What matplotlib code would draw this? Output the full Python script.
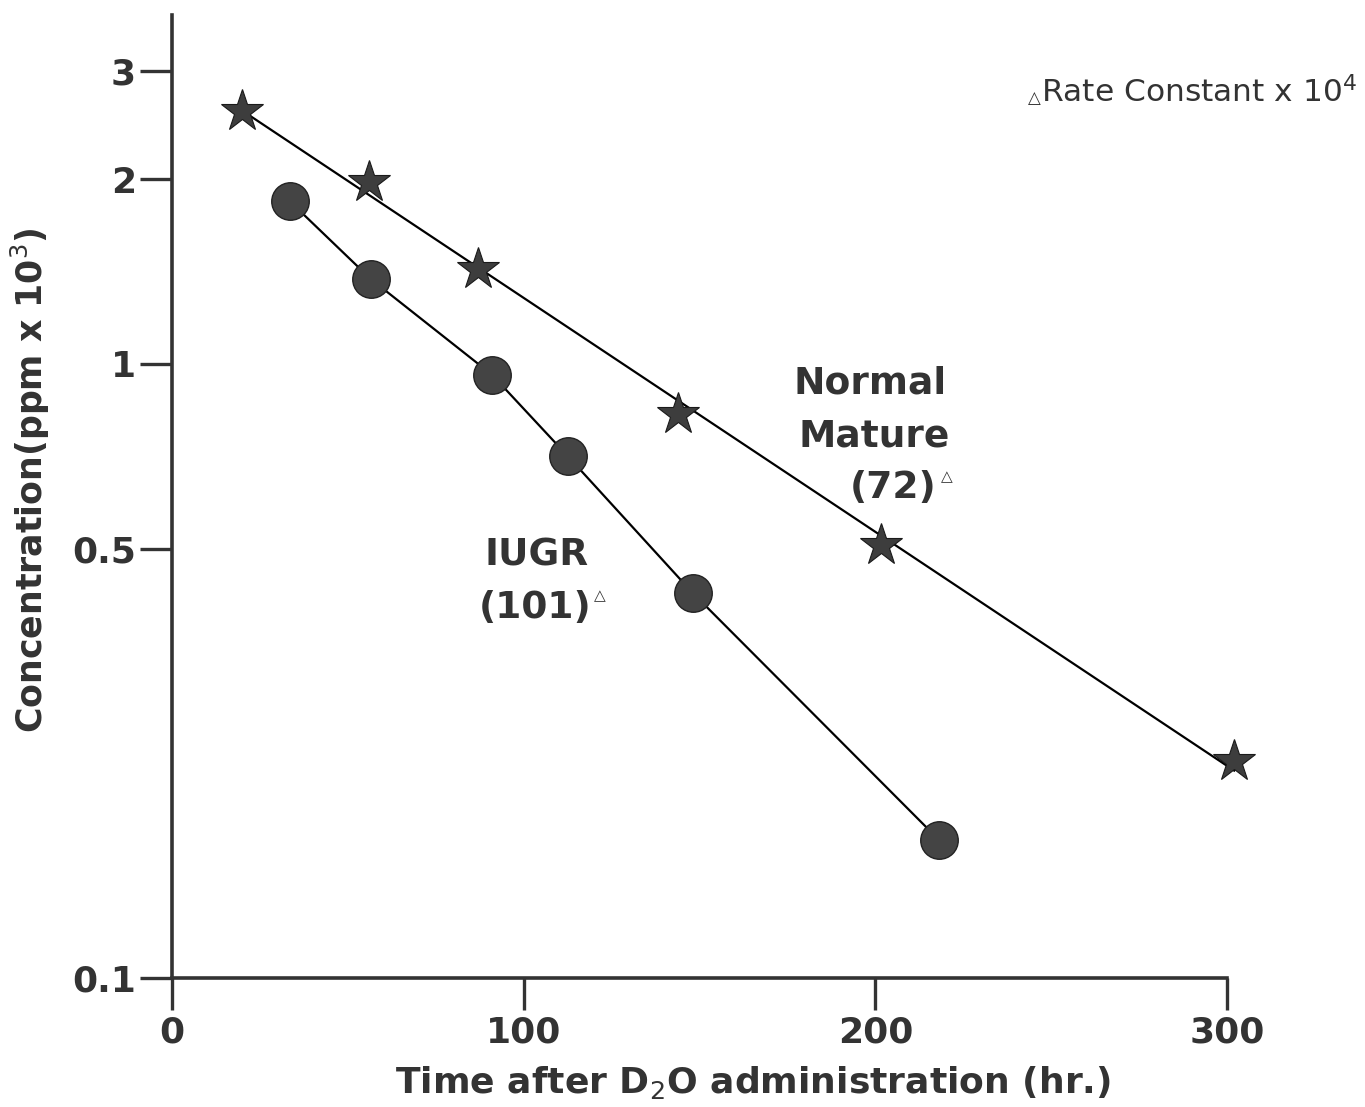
import numpy as np
import matplotlib.pyplot as plt

# Data
normal_t = [20, 56, 87, 144, 201.5, 302]
normal_c = [2.58, 1.98, 1.43, 0.83, 0.508, 0.226]
iugr_t = [33.5, 56.5, 91, 112.5, 148, 218]
iugr_c = [1.84, 1.375, 0.96, 0.708, 0.424, 0.168]

x_ticks = [0, 100, 200, 300]
y_ticks = [0.1, 0.5, 1, 2, 3]
y_ticklabels = ["0.1", "0.5", "1", "2", "3"]

ink = "#333333"

fig = plt.figure(figsize=(13.65, 11.07), dpi=100)
ax = fig.add_axes([0.126, 0.1165, 0.773, 0.87])

# Normal mature: straight line fitted in log space
k, b = np.polyfit(normal_t, np.log10(normal_c), 1)
fit_t = np.array([normal_t[0], normal_t[-1]])
ax.plot(fit_t, 10 ** (k * fit_t + b), color="black", lw=1.6, zorder=2,
        clip_on=False)
ax.plot(normal_t, normal_c, linestyle="none", marker="*", ms=32,
        mfc="#3d3d3d", mec="#1a1a1a", mew=0.8, zorder=3, clip_on=False)

# IUGR: points joined
ax.plot(iugr_t, iugr_c, color="black", lw=1.6, zorder=2, clip_on=False)
ax.plot(iugr_t, iugr_c, linestyle="none", marker="o", ms=27,
        mfc="#444444", mec="#222222", mew=1.0, zorder=3, clip_on=False)

ax.set_yscale("log")
ax.set_xlim(0, 300)
ax.set_ylim(0.1, 3.7)
ax.set_xticks(x_ticks)
ax.set_xticklabels([str(t) for t in x_ticks])
ax.set_yticks(y_ticks)
ax.set_yticklabels(y_ticklabels)
ax.minorticks_off()

for side in ["top", "right"]:
    ax.spines[side].set_visible(False)
for side in ["left", "bottom"]:
    ax.spines[side].set_linewidth(2.6)
    ax.spines[side].set_color(ink)

ax.tick_params(axis="both", direction="out", length=23, width=2.4,
               color=ink, labelcolor=ink, labelsize=26)
ax.tick_params(axis="y", pad=3)
ax.tick_params(axis="x", pad=4)
for lbl in ax.get_xticklabels() + ax.get_yticklabels():
    lbl.set_fontweight("bold")

ax.set_xlabel("Time after D$_2$O administration (hr.)", fontsize=26,
              fontweight="bold", color=ink, va="center")
ax.set_ylabel("Concentration(ppm x 10$^3$)", fontsize=25,
              fontweight="bold", color=ink)
ax.xaxis.set_label_coords((753 - 172) / 1055, (978 - 1082) / 963)
ax.yaxis.set_label_coords(-0.114, 0.517)


def px_text(x, y, s, **kw):
    # position in pixels measured from the top-left of the figure
    fig.text(x / 1365, 1 - y / 1107, s, color=ink, **kw)


# Group labels
big = dict(fontsize=27, fontweight="bold", ha="center", va="center")
px_text(870, 383, "Normal", **big)
px_text(874, 436, "Mature", **big)
px_text(893, 488, "(72)", **big)
px_text(947, 477, "\u25b3", fontsize=11, ha="center", va="center")
px_text(537, 555, "IUGR", **big)
px_text(535, 608, "(101)", **big)
px_text(600, 596, "\u25b3", fontsize=11, ha="center", va="center")

# Footnote
px_text(1034, 98, "\u25b3", fontsize=12, ha="center", va="center")
px_text(1357, 92, "Rate Constant x 10$^4$", fontsize=22.5, ha="right",
        va="center")

fig.savefig("out.png", dpi=100, facecolor="white")
